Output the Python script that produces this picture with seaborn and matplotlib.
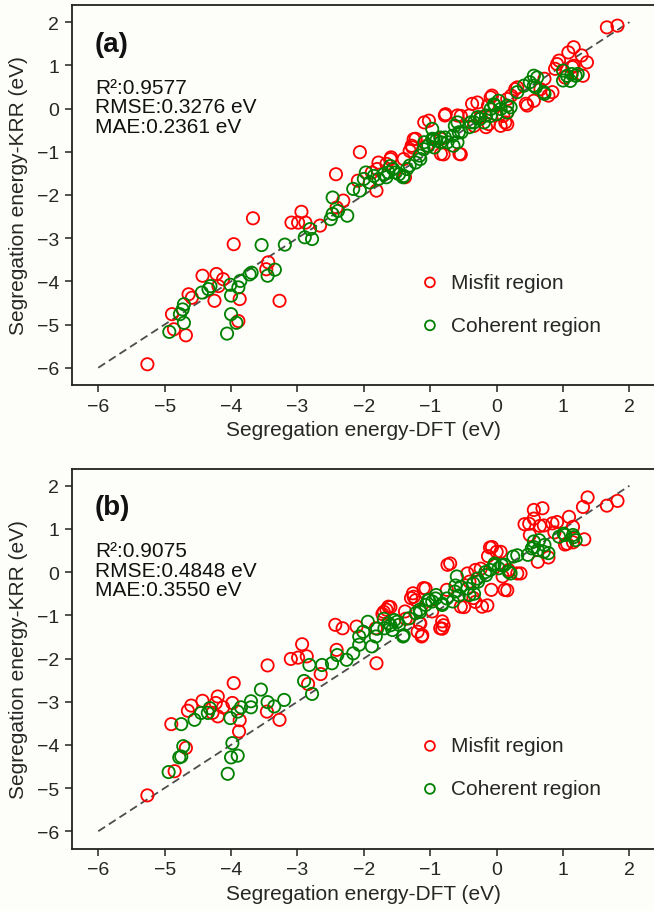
import matplotlib
matplotlib.use("Agg")
import matplotlib.pyplot as plt
import seaborn as sns
import pandas as pd

# ---------------- data ----------------
# Panel (a)
a_misfit_x = [1.66, 1.82, 1.16, 1.08, 0.94, 1.28, 1.36, 1.14, 0.88, 1.30, 1.03, 0.72, 0.66, 0.78,
              0.56, 0.44, 0.28, 0.22, 0.16, -0.09, -0.13, 0.16, 0.13, 0.06, -0.16, -0.34, -0.37,
              -0.41, -0.59, -0.56, -0.78, -0.84, -0.84, -1.09, -1.22, -1.28, -1.31, -1.38, -1.59,
              -1.66, -1.78, -1.81, -1.88, -2.06, -2.09, -2.31, -2.42, -2.41, -2.66, -2.88, -2.94,
              -3.09, -2.99, -3.67, -3.44, -3.47, -3.27, -3.96, -3.87, -3.89, -4.22, -4.12, -4.43,
              -4.19, -4.25, -4.64, -4.59, -4.89, -4.86, -4.68, -5.26,
              -1.02, -0.77, -0.54, -0.29, -0.07, 0.31, 0.46, -1.05, -1.25, -1.27, -0.80, -0.54,
              0.16, 0.10, 0.84, 0.91, 1.16, -1.60, -1.80, -1.40, -0.12, -0.24]
a_misfit_y = [1.88, 1.92, 1.42, 1.30, 1.11, 1.23, 1.07, 0.96, 0.92, 0.76, 0.72, 0.69, 0.45, 0.30,
              0.18, 0.11, 0.45, 0.30, 0.22, 0.26, 0.07, -0.09, -0.32, -0.40, -0.43, -0.40, 0.11,
              -0.16, -0.16, -1.05, -0.16, -0.70, -1.05, -0.32, -0.70, -0.86, -0.98, -1.59, -1.13,
              -1.28, -1.25, -1.90, -1.48, -1.01, -1.67, -2.13, -1.52, -2.29, -2.71, -2.64, -2.39,
              -2.64, -2.64, -2.54, -3.56, -3.72, -4.45, -3.14, -4.41, -4.92, -3.83, -3.95, -3.87,
              -4.11, -4.45, -4.30, -4.38, -4.76, -5.11, -5.25, -5.92,
              -0.28, -0.13, -0.17, 0.14, 0.30, 0.49, 0.07, -0.86, -0.71, -0.90, -1.06, -1.06,
              -0.36, -0.17, 0.38, 1.03, 0.99, -1.17, -1.40, -1.17, -0.36, -0.20]

a_coherent_x = [0.56, 0.50, 0.41, 0.59, 0.72, 1.00, 1.13, 1.19, 1.00, 0.31, 0.16, 0.03, -0.03,
                -0.09, 0.00, -0.16, -0.25, -0.34, -0.41, -0.53, -0.63, -0.66, -0.59, -0.78, -0.84,
                -0.91, -0.97, -0.94, -1.03, -1.09, -0.97, -1.16, -1.22, -1.31, -1.41, -1.47, -1.56,
                -1.63, -1.66, -1.78, -1.91, -1.97, -2.00, -2.06, -2.16, -2.25, -2.39, -2.47, -2.47,
                -2.50, -2.78, -2.81, -2.89, -3.19, -3.54, -3.34, -3.45, -3.69, -3.72, -3.86, -3.89,
                -4.00, -4.01, -3.92, -4.00, -4.06, -4.31, -4.34, -4.44, -4.71, -4.73, -4.77, -4.71,
                -4.93,
                -1.60, -1.52, -1.70, -1.40, -1.85, -1.35, -1.15, -1.10, -0.95, -0.85, -0.74, -0.59,
                -0.57, -0.65, -0.29, -0.19, -0.09, -0.04, 0.06, 0.16, 0.21, -0.39, 0.56, 0.61,
                0.71, 1.06, 1.22, 1.11]
a_coherent_y = [0.76, 0.61, 0.53, 0.49, 0.34, 0.88, 0.80, 0.76, 0.65, 0.38, 0.07, 0.18, 0.07,
                -0.01, -0.13, -0.16, -0.24, -0.32, -0.43, -0.55, -0.40, -0.63, -0.78, -0.67, -0.78,
                -0.74, -0.70, -0.90, -0.86, -0.78, -0.47, -1.09, -1.25, -1.32, -1.59, -1.52, -1.40,
                -1.48, -1.59, -1.63, -1.71, -1.48, -1.63, -1.90, -1.86, -2.48, -2.37, -2.44, -2.06,
                -2.56, -3.02, -2.79, -2.98, -3.15, -3.16, -3.73, -3.87, -3.80, -3.84, -3.99, -4.14,
                -4.33, -4.08, -4.96, -4.76, -5.21, -4.11, -4.18, -4.26, -4.53, -4.65, -4.76, -4.96,
                -5.17,
                -1.33, -1.48, -1.52, -1.56, -1.56, -1.40, -1.17, -0.94, -0.71, -0.67, -0.78, -0.32,
                -0.55, -0.86, -0.20, -0.32, -0.17, 0.10, -0.01, -0.09, 0.03, -0.32, 0.53, 0.72,
                0.38, 0.76, 0.80, 0.64]

# Panel (b)
b_misfit_x = [1.82, 1.66, 1.37, 1.30, 1.32, 1.09, 1.15, 1.15, 1.03, 0.84, 0.87, 0.78, 0.69, 0.56,
              0.65, 0.56, 0.42, 0.50, 0.62, 0.31, 0.12, 0.18, 0.09, 0.00, -0.10, -0.13, -0.08,
              -0.22, -0.35, -0.32, -0.41, -0.54, -0.74, -0.75, -0.85, -0.82, -0.97, -1.10, -1.26,
              -1.29, -1.13, -1.19, -1.16, -1.38, -1.63, -1.66, -1.72, -1.82, -1.81, -2.11, -2.32,
              -2.43, -2.41, -2.65, -2.84, -2.86, -2.93, -2.99, -3.10, -3.45, -3.46, -3.27, -3.96,
              -3.98, -3.87, -3.88, -4.20, -4.23, -4.12, -4.20, -4.28, -4.43, -4.60, -4.65, -4.90,
              -4.68, -4.85, -5.26,
              0.49, 0.71, 0.91, 1.06, -0.70, -0.07, 0.06, -0.24, -0.44, 0.36, 0.16, -0.14, -0.32,
              -1.07, -1.25, -1.22, -0.49, -0.80, -0.82, -1.12, -1.15, -1.60, -1.70, -1.37]
b_misfit_y = [1.65, 1.54, 1.73, 1.51, 0.76, 1.28, 1.05, 0.69, 0.64, 1.13, 0.92, 0.34, 1.48, 1.44,
              1.07, 1.24, 1.11, 0.86, 0.24, -0.03, -0.41, 0.05, -0.10, 0.47, 0.57, 0.37, -0.41,
              -0.80, -0.60, 0.05, -0.22, -0.80, 0.17, -0.41, -1.30, -1.14, -0.91, -0.37, -0.49,
              -0.60, -1.49, -1.38, -1.18, -0.91, -0.80, -0.87, -0.97, -1.30, -2.11, -1.26, -1.30,
              -1.22, -1.80, -2.36, -2.59, -1.95, -1.67, -1.98, -2.01, -2.16, -3.23, -3.42, -2.57,
              -3.03, -3.43, -3.69, -2.88, -3.03, -3.13, -3.34, -3.26, -2.98, -3.09, -3.21, -3.52,
              -4.07, -4.61, -5.17,
              1.12, 1.08, 1.16, 0.66, 0.20, 0.58, 0.47, 0.08, -0.03, -0.03, -0.42, -0.77, -0.69,
              -0.38, -0.57, -0.65, -0.81, -1.23, -1.31, -1.46, -1.19, -0.81, -0.92, -1.08]

b_coherent_x = [1.15, 1.03, 1.19, 0.94, 0.78, 0.72, 0.62, 0.56, 0.53, 0.47, 0.25, 0.18, 0.12,
                0.03, -0.03, -0.10, -0.16, -0.28, -0.35, -0.41, -0.60, -0.54, -0.63, -0.66, -0.75,
                -0.82, -0.91, -0.97, -1.03, -1.07, -1.16, -1.22, -1.32, -1.41, -1.47, -1.54, -1.57,
                -1.63, -1.69, -1.82, -1.88, -1.94, -2.01, -2.07, -2.07, -2.16, -2.26, -2.40, -2.48,
                -2.63, -2.82, -2.78, -2.90, -3.20, -3.55, -3.35, -3.45, -3.70, -3.70, -3.85, -3.90,
                -4.01, -3.98, -3.90, -4.00, -4.05, -4.32, -4.35, -4.45, -4.55, -4.75, -4.72, -4.75,
                -4.78, -4.94,
                -1.70, -1.60, -1.50, -1.80, -1.40, -1.15, -1.02, -0.92, -0.82, -0.62, -0.57, -0.44,
                -0.34, -0.29, -0.17, -0.04, 0.08, 0.21, 0.31, 0.56, 0.64, 0.71, 1.01, 1.16]
b_coherent_y = [0.86, 0.86, 0.74, 0.82, 0.44, 0.63, 0.51, 0.71, 0.55, 0.40, 0.36, 0.01, 0.17,
                0.09, 0.20, 0.05, -0.07, -0.22, -0.26, -0.53, -0.10, -0.34, -0.45, -0.68, -0.61,
                -0.76, -0.53, -0.68, -0.64, -0.76, -0.87, -0.95, -1.07, -1.49, -1.22, -1.11, -1.34,
                -1.18, -1.30, -1.49, -1.72, -1.15, -1.38, -1.49, -1.68, -1.88, -2.03, -1.92, -2.11,
                -2.15, -2.15, -2.82, -2.52, -2.96, -2.72, -3.11, -3.01, -2.99, -3.13, -3.13, -3.23,
                -3.38, -3.96, -4.25, -4.29, -4.67, -3.15, -3.26, -3.26, -3.42, -3.52, -4.03, -4.27,
                -4.29, -4.63,
                -1.08, -1.23, -1.15, -1.31, -1.46, -0.92, -0.65, -0.61, -0.73, -0.31, -0.54, -0.38,
                -0.50, -0.15, 0.00, 0.16, 0.16, -0.03, 0.39, 0.58, 0.74, 0.47, 0.89, 0.81]

panel_labels = ["(a)", "(b)"]
stats_a = ["R\u00b2:0.9577", "RMSE:0.3276 eV", "MAE:0.2361 eV"]
stats_b = ["R\u00b2:0.9075", "RMSE:0.4848 eV", "MAE:0.3550 eV"]
series_names = ["Misfit region", "Coherent region"]
series_colors = ["#ff0000", "#008000"]
diag = [-6, 2]
ticks = [-6, -5, -4, -3, -2, -1, 0, 1, 2]
xlabel = "Segregation energy-DFT (eV)"
ylabel = "Segregation energy-KRR (eV)"

# ---------------- style ----------------
sns.set_theme(style="ticks")
plt.rcParams["font.family"] = ["Liberation Sans", "DejaVu Sans"]
bg = "#fdfdf9"

fig = plt.figure(figsize=(6.54, 9.12), dpi=100, facecolor=bg)
W, H = 654.0, 912.0
left_px, right_px = 71.7, 656.0
axes_px = [(5.9, 386.0), (469.5, 849.5)]  # (top, bottom)

panels = [
    (a_misfit_x, a_misfit_y, a_coherent_x, a_coherent_y, stats_a),
    (b_misfit_x, b_misfit_y, b_coherent_x, b_coherent_y, stats_b),
]

for i, (mx, my, cx, cy, stats) in enumerate(panels):
    top, bot = axes_px[i]
    ax = fig.add_axes([left_px / W, 1 - bot / H, (right_px - left_px) / W, (bot - top) / H])
    ax.set_facecolor(bg)

    ax.plot(diag, diag, ls=(0, (4.5, 2.5)), color="#4d4d4d", lw=1.3, zorder=1)

    df_m = pd.DataFrame({"x": mx, "y": my})
    df_c = pd.DataFrame({"x": cx, "y": cy})
    sns.scatterplot(data=df_m, x="x", y="y", ax=ax, marker="o", s=78,
                    facecolors="none", edgecolor=series_colors[0], linewidth=1.3,
                    label=series_names[0], zorder=2)
    sns.scatterplot(data=df_c, x="x", y="y", ax=ax, marker="o", s=78,
                    facecolors="none", edgecolor=series_colors[1], linewidth=1.3,
                    label=series_names[1], zorder=3)

    ax.set_xlim(-6.4, 2.4)
    ax.set_ylim(-6.4, 2.4)
    ax.set_xticks(ticks)
    ax.set_yticks(ticks)
    ax.tick_params(labelsize=14, length=5, width=1.1, color="#222222", pad=4)
    for sp in ax.spines.values():
        sp.set_linewidth(1.3)
        sp.set_color("#222222")
    ax.set_xlabel(xlabel, fontsize=15, labelpad=4)
    ax.set_ylabel(ylabel, fontsize=15, labelpad=6)

    ax.text(-6.05, 1.50, panel_labels[i], fontsize=20, fontweight="bold",
            ha="left", va="center", color="#111111")
    for j, line in enumerate(stats):
        ax.text(-6.05, 0.49 - 0.45 * j, line, fontsize=15, ha="left", va="center",
                color="#111111")

    leg = ax.legend(loc="upper left", bbox_to_anchor=(0.581, 0.317), frameon=False,
                    fontsize=15, handlelength=1.0, handletextpad=0.5, labelspacing=1.15,
                    markerscale=0.8, borderaxespad=0)

fig.savefig("out.png", dpi=100, facecolor=bg)
